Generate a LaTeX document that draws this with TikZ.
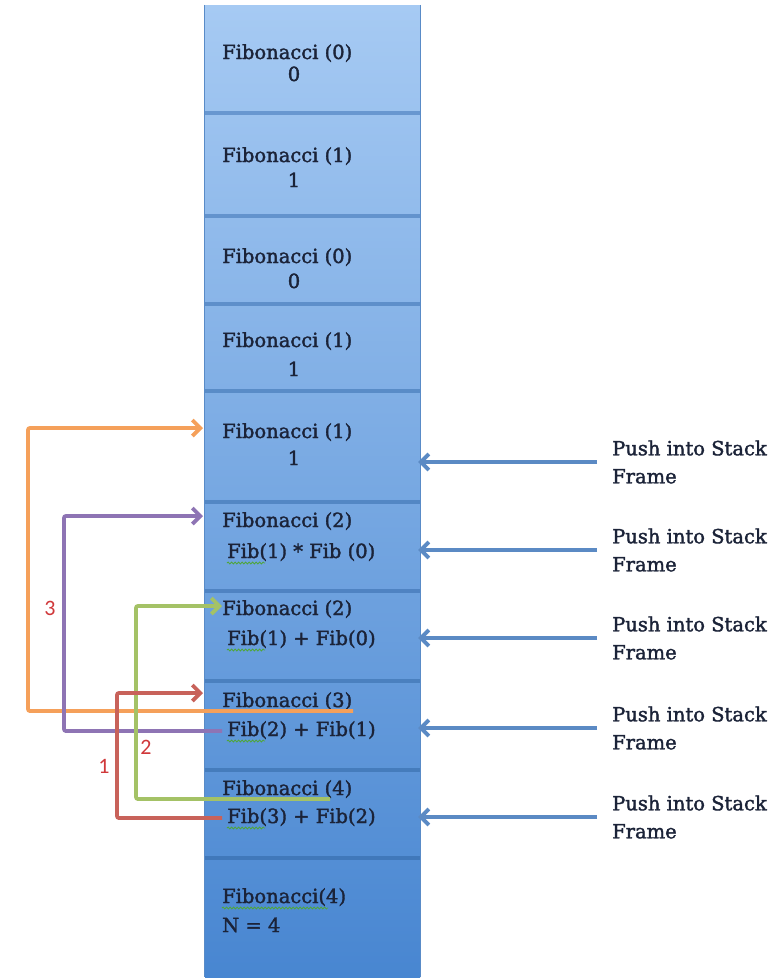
\documentclass[tikz,border=0pt]{standalone}
\usepackage{fontspec}
\setmainfont{DejaVu Serif}[FakeBold=1.8]
\newfontfamily\lblfont{Carlito}
\usetikzlibrary{arrows.meta,decorations.pathmorphing}
\definecolor{txt}{HTML}{1B2338}
\definecolor{cTop}{HTML}{A6CAF3}
\definecolor{cBot}{HTML}{4886D1}
\definecolor{sTop}{HTML}{6E9CD3}
\definecolor{sBot}{HTML}{3A73B6}
\definecolor{orangeA}{HTML}{F5A05A}
\definecolor{purpleA}{HTML}{8E74B4}
\definecolor{greenA}{HTML}{A4C266}
\definecolor{redA}{HTML}{C8625A}
\definecolor{blueA}{HTML}{5B8AC4}
\definecolor{numred}{HTML}{D0383A}
\definecolor{wavy}{HTML}{4FA63A}
\begin{document}
\begin{tikzpicture}[x=1pt,y=-1pt,
  boxsty/.style={rectangle, inner sep=0pt, minimum width=215pt, draw=none},
  boxtxt/.style={font=\fontsize{19.5}{21}\selectfont, text=txt, inner sep=0pt, anchor=base west},
  ctrtxt/.style={boxtxt, anchor=base},
  pushtxt/.style={font=\fontsize{19.5}{28}\selectfont, text=txt, inner sep=0pt, anchor=west, align=left},
  numtxt/.style={font=\lblfont\fontsize{22}{24}\selectfont, text=numred, inner sep=0pt},
  tipsty/.style={-{Straight Barb[length=8pt,width=16pt]}},
  bluearr/.style={tipsty, draw=blueA, line width=3.8pt},
  callarr/.style={tipsty, line width=3.8pt, rounded corners=2pt},
  squig/.style={draw=wavy, line width=0.8pt, decorate, decoration={snake, amplitude=1pt, segment length=3.5pt}}
]
\useasboundingbox (0,0) rectangle (784,978);
\fill[white] (0,0) rectangle (784,978);

% stack boxes
\foreach \i/\ya/\yb/\pa/\pb in {1/5/113/100/88.9, 2/113/216/88.9/78.3, 3/216/304/78.3/69.2, 4/304/391/69.2/60.3, 5/391/502/60.3/48.9, 6/502/591/48.9/39.7, 7/591/681/39.7/30.5, 8/681/770/30.5/21.3, 9/770/858/21.3/12.2, 10/858/977/12.2/0}{
  \node[boxsty, minimum height={\yb-\ya}, top color=cTop!\pa!cBot, bottom color=cTop!\pb!cBot] (box\i) at (312.5,{(\ya+\yb)/2}) {};
}
% column sides
\draw[sTop!60!sBot, line width=1pt] (box1.north west) -- (box10.south west);
\draw[sTop!60!sBot, line width=1pt] (box1.north east) -- (box10.south east);
% separators
\foreach \j/\p in {1/88.9, 2/78.3, 3/69.2, 4/60.3, 5/48.9, 6/39.7, 7/30.5, 8/21.3, 9/12.2}{
  \draw[sTop!\p!sBot, line width=3.5pt] (box\j.south west) -- (box\j.south east);
}

% box texts
\node[boxtxt] (t1a) at (222,59) {Fibonacci (0)};
\node[ctrtxt] (t1b) at (294,81) {0};
\node[boxtxt] (t2a) at (222,162) {Fibonacci (1)};
\node[ctrtxt] (t2b) at (294,187) {1};
\node[boxtxt] (t3a) at (222,263) {Fibonacci (0)};
\node[ctrtxt] (t3b) at (294,288) {0};
\node[boxtxt] (t4a) at (222,347) {Fibonacci (1)};
\node[ctrtxt] (t4b) at (294,376) {1};
\node[boxtxt] (t5a) at (222,438) {Fibonacci (1)};
\node[ctrtxt] (t5b) at (294,465) {1};
\node[boxtxt] (t6a) at (222,527) {Fibonacci (2)};
\node[boxtxt] (t6b) at (227,558) {Fib(1) * Fib (0)};
\node[boxtxt] (t7a) at (222,615) {Fibonacci (2)};
\node[boxtxt] (t7b) at (227,645) {Fib(1) + Fib(0)};
\node[boxtxt] (t8a) at (222,707) {Fibonacci (3)};
\node[boxtxt] (t8b) at (227,736) {Fib(2) + Fib(1)};
\node[boxtxt] (t9a) at (222,795) {Fibonacci (4)};
\node[boxtxt] (t9b) at (227,823) {Fib(3) + Fib(2)};
\node[boxtxt] (t10a) at (222,903) {Fibonacci(4)};
\node[boxtxt] (t10b) at (222,932) {N = 4};

% spell-check squiggles
\foreach \n in {t6b,t7b,t8b,t9b}{
  \draw[squig] ([yshift=-5pt]\n.base west) -- ++(38,0);
}
\draw[squig] ([yshift=-5pt]t10a.base west) -- ++(106,0);

% push labels and blue arrows
\foreach \k/\y/\b in {1/462/5, 2/550/6, 3/638/7, 4/728/8, 5/817/9}{
  \node[pushtxt] (push\k) at (612,\y) {Push into Stack\\Frame};
  \draw[bluearr, shorten <=15pt, shorten >=-2pt] (push\k.west) -- (push\k.west -| box\b.east);
}

% call arrows
\coordinate (oS) at (353,711); \coordinate (oC) at (28,428); \coordinate (oE) at (203,428);
\coordinate (pS) at (222,731); \coordinate (pC) at (64,516);  \coordinate (pE) at (203,516);
\coordinate (gS) at (330,799); \coordinate (gC) at (136,606); \coordinate (gE) at (222,606);
\coordinate (rS) at (222,818); \coordinate (rC) at (117,693); \coordinate (rE) at (203,693);
\draw[callarr, draw=orangeA] (oS) -| (oC) -- (oE);
\draw[callarr, draw=purpleA] (pS) -| (pC) -- (pE);
\draw[callarr, draw=greenA] (gS) -| (gC) -- (gE);
\draw[callarr, draw=redA] (rS) -| (rC) -- (rE);

\node[numtxt] (n3) at (50,608) {3};
\node[numtxt] (n2) at (146,747) {2};
\node[numtxt] (n1) at (104,766) {1};
\end{tikzpicture}
\end{document}
